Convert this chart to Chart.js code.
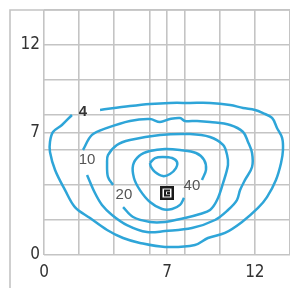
<!DOCTYPE html>
<html>
<head>
<meta charset="utf-8">
<script src="https://cdn.jsdelivr.net/npm/chart.js@4.4.0/dist/chart.umd.min.js"></script>
<style>
  html, body { margin: 0; padding: 0; background: #fff; }
</style>
</head>
<body>
<canvas id="chart" width="290" height="288"></canvas>
<script>
// Grid and tick values
const gridValues = [0, 2, 4, 6, 7, 8, 10, 12, 14];
const tickLabels = [0, 7, 12];

// Contour lines (x, y in grid units)
const contour4 = [
  [3.19, 8.29], [4.89, 8.51], [6.03, 8.63], [7.17, 8.69], [8.31, 8.69], [9.45, 8.69],
  [10.59, 8.57], [11.33, 8.40], [12.01, 8.29], [12.46, 8.11], [12.98, 7.83], [13.26, 7.26],
  [13.55, 6.69], [13.60, 6.00], [13.49, 5.26], [13.20, 4.29], [12.69, 3.31], [12.18, 2.69],
  [11.27, 1.89], [10.30, 1.26], [9.33, 0.97], [8.59, 0.57], [6.89, 0.46], [5.46, 0.69],
  [4.50, 0.97], [3.59, 1.43], [2.62, 2.11], [1.76, 2.74], [1.20, 3.71], [0.63, 4.86],
  [0.34, 5.89], [0.34, 6.46], [0.51, 7.03], [1.02, 7.43], [1.59, 8.00]
];
const contour10 = [
  [2.22, 6.00], [2.73, 6.86], [3.59, 7.26], [4.89, 7.66], [6.03, 7.77], [6.60, 7.60],
  [7.17, 7.77], [7.74, 7.83], [8.02, 7.66], [8.71, 7.66], [9.45, 7.60], [10.59, 7.43],
  [11.33, 7.03], [11.61, 6.46], [11.84, 5.83], [11.84, 5.03], [11.44, 4.29], [11.16, 3.71],
  [10.98, 3.14], [10.47, 2.57], [9.73, 2.00], [8.42, 1.54], [6.89, 1.37], [5.86, 1.31],
  [4.72, 1.71], [3.87, 2.29], [3.30, 2.86], [2.90, 3.54], [2.45, 4.57]
];
const contour20 = [
  [3.93, 4.00], [3.64, 4.46], [3.59, 5.26], [3.64, 5.71], [4.15, 6.29], [4.89, 6.57],
  [6.60, 6.86], [8.31, 6.91], [9.45, 6.74], [10.19, 6.29], [10.42, 5.71], [10.47, 5.14],
  [10.19, 4.11], [9.85, 3.14], [9.45, 2.57], [8.88, 2.34], [8.02, 2.11], [6.89, 1.89],
  [6.03, 1.89], [5.07, 2.17], [4.50, 2.74]
];
const contour40 = [
  [8.99, 4.29], [9.22, 4.86], [9.11, 5.43], [8.65, 5.83], [7.74, 6.00], [6.89, 6.06],
  [6.03, 5.94], [5.41, 5.66], [5.07, 5.14], [5.12, 4.40], [5.46, 3.71], [6.03, 3.03],
  [6.72, 2.63], [7.29, 2.63], [7.74, 2.86], [7.97, 3.26]
];
const contourPeak = [
  [6.03, 5.26], [6.32, 5.54], [6.77, 5.60], [7.29, 5.54], [7.57, 5.31], [7.51, 4.97],
  [7.17, 4.63], [6.77, 4.51], [6.32, 4.74], [6.09, 5.03], [6.03, 5.26]
];

// Contour labels
const labelTexts = ['4', '10', '20', '40'];
const labelX = [2.22, 2.45, 4.55, 8.42];
const labelY = [8.17, 5.43, 3.43, 3.94];

// Marker position
const markerX = [7.0];
const markerY = [3.54];

const toPoints = arr => arr.map(p => ({ x: p[0], y: p[1] }));

const lineBlue = '#2ea5d8';
const gridGrey = '#c4c4c4';

// symbol: boxed bracket
function makeMarker() {
  const c = document.createElement('canvas');
  c.width = 14; c.height = 14;
  const g = c.getContext('2d');
  g.fillStyle = '#fff';
  g.fillRect(0, 0, 14, 14);
  g.strokeStyle = '#1a1a1a';
  g.lineWidth = 2.5;
  g.strokeRect(1.25, 1.25, 11.5, 11.5);
  g.lineWidth = 2;
  g.beginPath();
  g.moveTo(10, 4.5); g.lineTo(5, 4.5); g.lineTo(5, 9.5); g.lineTo(10, 9.5);
  g.stroke();
  g.fillStyle = '#1a1a1a';
  g.fillRect(7, 6, 3, 2);
  return c;
}

function contourSet(arr) {
  return {
    data: toPoints(arr),
    showLine: true,
    borderColor: lineBlue,
    borderWidth: 2.5,
    pointRadius: 0,
    tension: 0.35,
    fill: false
  };
}

const framePlugin = {
  id: 'frame',
  beforeDraw(chart) {
    const { ctx, chartArea } = chart;
    ctx.save();
    ctx.strokeStyle = gridGrey;
    ctx.lineWidth = 1.6;
    ctx.beginPath();
    ctx.moveTo(chartArea.left - 34, chart.height);
    ctx.lineTo(chartArea.left - 34, chartArea.top);
    ctx.lineTo(chart.width, chartArea.top);
    ctx.stroke();
    ctx.restore();
  }
};

const labelPlugin = {
  id: 'contourLabels',
  afterDatasetsDraw(chart) {
    const { ctx, scales } = chart;
    ctx.save();
    ctx.textAlign = 'center';
    ctx.textBaseline = 'middle';
    labelTexts.forEach((t, i) => {
      ctx.fillStyle = i === 0 ? '#333' : '#555';
      ctx.font = (i === 0 ? 'bold ' : '') + '15px "Liberation Sans", Arial, sans-serif';
      ctx.fillText(t, scales.x.getPixelForValue(labelX[i]), scales.y.getPixelForValue(labelY[i]));
    });
    ctx.restore();
  }
};

const axisCommon = {
  type: 'linear',
  min: 0,
  max: 14,
  afterBuildTicks: scale => { scale.ticks = gridValues.map(v => ({ value: v })); },
  grid: { color: gridGrey, lineWidth: 1.6, drawTicks: false },
  border: { display: false },
  ticks: {
    autoSkip: false,
    maxRotation: 0,
    color: '#333',
    font: { family: '"Liberation Sans Narrow", "DejaVu Sans Condensed", sans-serif', size: 17 },
    callback: v => tickLabels.includes(v) ? String(v) : ''
  }
};

new Chart(document.getElementById('chart'), {
  type: 'scatter',
  data: {
    datasets: [
      contourSet(contour4),
      contourSet(contour10),
      contourSet(contour20),
      contourSet(contour40),
      contourSet(contourPeak),
      {
        data: markerX.map((x, i) => ({ x: x, y: markerY[i] })),
        pointStyle: makeMarker(),
        pointRadius: 7,
        showLine: false
      }
    ]
  },
  options: {
    responsive: false,
    animation: false,
    layout: { autoPadding: false, padding: { top: 10, left: 0, right: 0, bottom: 0 } },
    plugins: { legend: { display: false }, tooltip: { enabled: false } },
    scales: {
      x: Object.assign({}, axisCommon, {
        afterFit: s => { s.height = 33; s.paddingLeft = 0; s.paddingRight = 0; },
        ticks: Object.assign({}, axisCommon.ticks, { padding: 7 })
      }),
      y: Object.assign({}, axisCommon, {
        afterFit: s => { s.width = 44; s.paddingTop = 0; s.paddingBottom = 0; },
        ticks: Object.assign({}, axisCommon.ticks, { padding: 4 })
      })
    }
  },
  plugins: [framePlugin, labelPlugin]
});
</script>
</body>
</html>
